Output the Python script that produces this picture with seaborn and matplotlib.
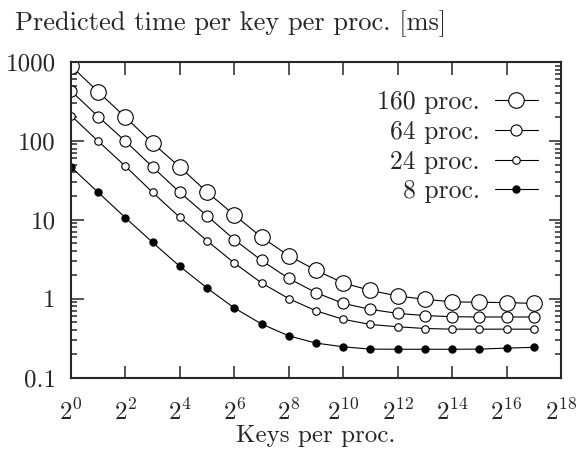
import numpy as np
import pandas as pd
import matplotlib
matplotlib.use("Agg")
import matplotlib.pyplot as plt
import seaborn as sns

# ---- data ----
keys_exp = list(range(0, 18))  # keys per proc = 2**k
p160 = [891, 419, 199, 93.5, 46.6, 22.4, 11.5, 6.0, 3.5, 2.29, 1.58, 1.27, 1.08, 0.98, 0.91, 0.90, 0.89, 0.87]
p64 = [431, 203, 99, 46.6, 22.2, 11.2, 5.6, 3.05, 1.80, 1.19, 0.87, 0.73, 0.65, 0.61, 0.59, 0.585, 0.585, 0.585]
p24 = [209, 99, 47.6, 22.2, 10.7, 5.4, 2.83, 1.58, 1.0, 0.70, 0.547, 0.47, 0.44, 0.418, 0.41, 0.41, 0.41, 0.41]
p8 = [46.6, 22.2, 10.6, 5.15, 2.56, 1.36, 0.76, 0.477, 0.337, 0.273, 0.245, 0.229, 0.228, 0.228, 0.228, 0.229, 0.236, 0.241]
series_labels = ["160 proc.", "64 proc.", "24 proc.", "8 proc."]
xtick_exps = list(range(0, 19, 2))
ytick_vals = [0.1, 1, 10, 100, 1000]
ytick_labels = ["0.1", "1", "10", "100", "1000"]

sns.set_style("ticks")
plt.rcParams["font.family"] = ["cmr10", "DejaVu Serif"]
plt.rcParams["mathtext.fontset"] = "cm"
plt.rcParams["axes.formatter.use_mathtext"] = True

W, H = 579, 451
fig = plt.figure(figsize=(W/100, H/100), dpi=100)
ax = fig.add_axes([71/W, 1-377.5/H, (561-71)/W, (377.5-62)/H])

styles = [
    dict(ms=11.2, mfc="white"),
    dict(ms=8.0, mfc="white"),
    dict(ms=5.4, mfc="white"),
    dict(ms=5.2, mfc="black"),
]
for vals, lab, st in zip([p160, p64, p24, p8], series_labels, styles):
    df = pd.DataFrame({"x": [2.0**k for k in keys_exp], "y": vals})
    sns.lineplot(data=df, x="x", y="y", ax=ax, color="black", lw=0.8,
                 marker="o", markersize=st["ms"], markerfacecolor=st["mfc"],
                 markeredgecolor="black", markeredgewidth=0.8, label=lab)

ax.set_xscale("log", base=2)
ax.set_yscale("log")
ax.set_xlim(1, 2**18)
ax.set_ylim(0.1, 1000)
ax.set_xticks([2.0**e for e in xtick_exps])
ax.set_xticklabels([r"$2^{%d}$" % e for e in xtick_exps])
ax.xaxis.set_minor_locator(matplotlib.ticker.NullLocator())
ax.set_yticks(ytick_vals)
ax.set_yticklabels(ytick_labels)
ax.yaxis.set_minor_locator(matplotlib.ticker.LogLocator(base=10, subs=np.arange(2, 10)))
ax.yaxis.set_minor_formatter(matplotlib.ticker.NullFormatter())

ax.tick_params(which="both", direction="in", top=True, right=True, width=1.1, labelsize=18)
ax.tick_params(axis="x", which="major", pad=16)
ax.tick_params(axis="y", which="major", pad=11)
ax.tick_params(which="major", length=9)
ax.tick_params(which="minor", length=4.5)
for s in ax.spines.values():
    s.set_linewidth(1.5)

ax.set_xlabel("Keys per proc.", fontsize=18)
ax.xaxis.label.set_va("baseline")
ax.xaxis.set_label_coords(0.5, (377.5-442)/(377.5-62))
ax.set_ylabel("")
fig.text(15/W, 1-30/H, "Predicted time per key per proc. [ms]", fontsize=19, va="baseline", ha="left")

ax.legend(loc="upper right", frameon=False, markerfirst=False, fontsize=18.5,
          handlelength=1.68, handletextpad=0.58, labelspacing=0.24,
          borderpad=0, borderaxespad=0,
          bbox_to_anchor=(538/W, 1-90/H), bbox_transform=fig.transFigure)

fig.savefig("out.png", dpi=100)
